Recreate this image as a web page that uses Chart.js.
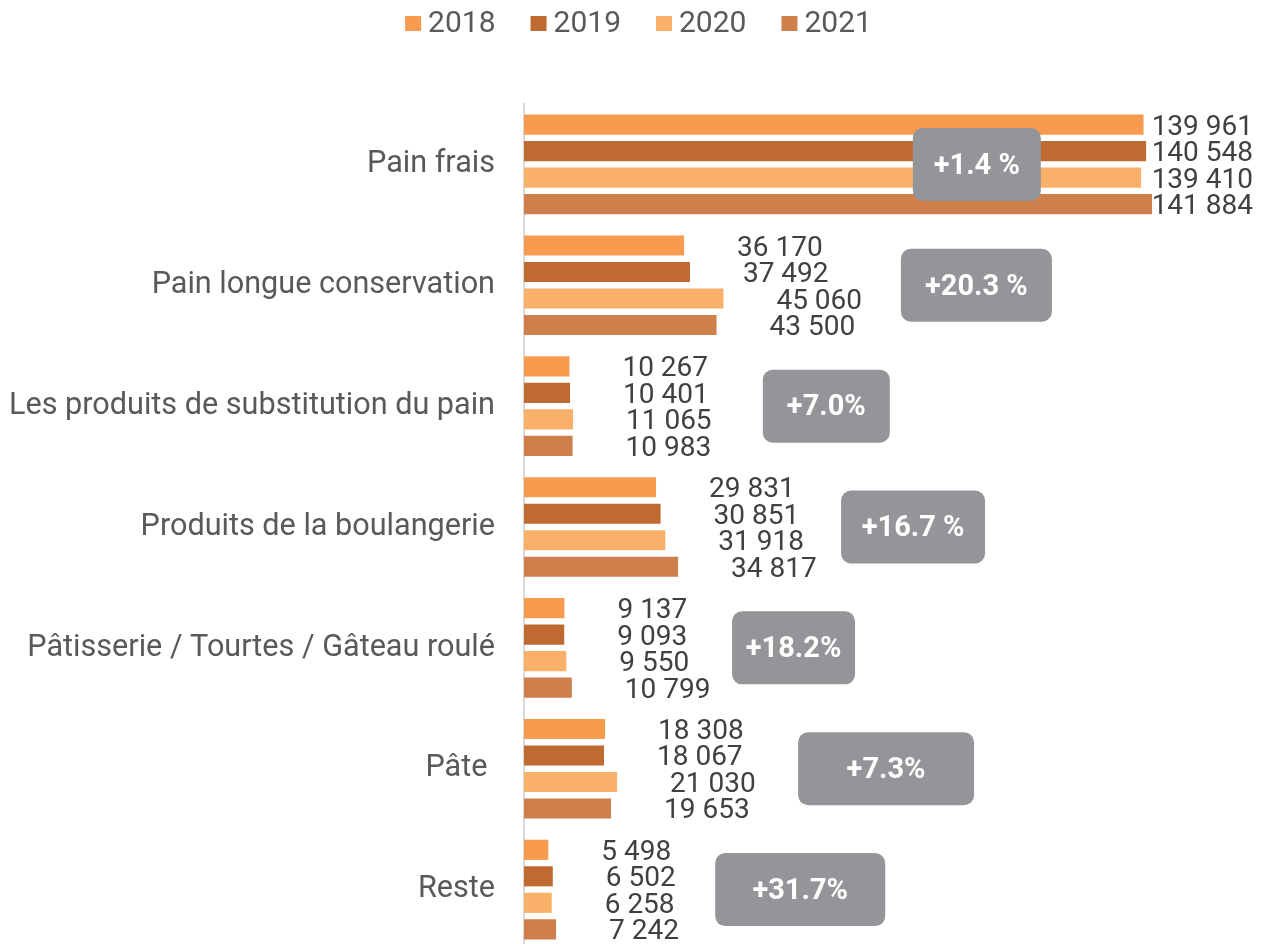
<!DOCTYPE html>
<html>
<head>
<meta charset="utf-8">
<script src="https://cdn.jsdelivr.net/npm/chart.js@4.4.0/dist/chart.umd.min.js"></script>
<style>
  html, body { margin: 0; padding: 0; background: #fff; overflow: hidden; }
  #wrap { width: 1261px; height: 950px; }
</style>
</head>
<body>
<div id="wrap"><canvas id="myChart" width="1261" height="950"></canvas></div>
<script>
const categories = ['Pain frais', 'Pain longue conservation', 'Les produits de substitution du pain',
  'Produits de la boulangerie', 'Pâtisserie / Tourtes / Gâteau roulé', 'Pâte ', 'Reste'];
const years = ['2018', '2019', '2020', '2021'];
const v2018 = [139961, 36170, 10267, 29831, 9137, 18308, 5498];
const v2019 = [140548, 37492, 10401, 30851, 9093, 18067, 6502];
const v2020 = [139410, 45060, 11065, 31918, 9550, 21030, 6258];
const v2021 = [141884, 43500, 10983, 34817, 10799, 19653, 7242];
const changes = ['+1.4 %', '+20.3 %', '+7.0%', '+16.7 %', '+18.2%', '+7.3%', '+31.7%'];

// badge placement (x-axis units) and box widths, copied from the layout of the original
const badgeCenters = [102300, 102200, 68300, 87900, 60900, 81800, 62400];
const badgeWidths = [128, 151, 127, 144, 123, 176, 170];

const colors = ['#F79C4F', '#BF6A31', '#F9B068', '#CE7F4C'];
const series = [v2018, v2019, v2020, v2021];

const fmt = v => String(v).replace(/\B(?=(\d{3})+(?!\d))/g, ' ');

// legend drawn by hand so spacing matches
const legendPlugin = {
  id: 'topLegend',
  afterDraw(chart) {
    const ctx = chart.ctx;
    ctx.save();
    ctx.font = '30px Roboto';
    const box = 16, gap = 7, between = 35;
    const widths = years.map(y => ctx.measureText(y).width);
    const total = widths.reduce((a, w) => a + box + gap + w, 0) + between * (years.length - 1);
    let x = chart.width / 2 + 8 - total / 2;
    years.forEach((y, i) => {
      ctx.fillStyle = colors[i];
      ctx.fillRect(x, 16, box, 15);
      ctx.fillStyle = '#595959';
      ctx.textBaseline = 'alphabetic';
      ctx.textAlign = 'left';
      ctx.fillText(y, x + box + gap, 32);
      x += box + gap + widths[i] + between;
    });
    ctx.restore();
  }
};

const labelPlugin = {
  id: 'valueLabels',
  afterDatasetsDraw(chart) {
    const ctx = chart.ctx;
    ctx.save();
    ctx.font = '28px Roboto';
    ctx.fillStyle = '#404040';
    ctx.textBaseline = 'middle';
    ctx.textAlign = 'left';
    chart.data.datasets.forEach((ds, di) => {
      chart.getDatasetMeta(di).data.forEach((bar, i) => {
        const t = fmt(ds.data[i]);
        const w = ctx.measureText(t).width;
        const x = Math.min(bar.x + 53, chart.width - w - 8);
        ctx.fillText(t, x, bar.y + 3);
      });
    });

    // change badges
    const xs = chart.scales.x, ys = chart.scales.y;
    ctx.font = 'bold 29px Roboto';
    ctx.textAlign = 'center';
    changes.forEach((c, i) => {
      const cx = xs.getPixelForValue(badgeCenters[i]);
      const cy = ys.getPixelForValue(i);
      const w = badgeWidths[i], h = 73;
      ctx.fillStyle = '#949599';
      ctx.beginPath();
      ctx.roundRect(cx - w / 2, cy - h / 2, w, h, 10);
      ctx.fill();
      ctx.fillStyle = '#ffffff';
      ctx.fillText(c, cx, cy + 2);
    });
    ctx.restore();
  }
};

const data = {
  labels: categories,
  datasets: series.map((s, i) => ({
    label: years[i],
    data: s,
    backgroundColor: colors[i],
    borderWidth: 0,
    categoryPercentage: 0.877,
    barPercentage: 0.76
  }))
};

const config = {
  type: 'bar',
  data,
  options: {
    indexAxis: 'y',
    responsive: false,
    animation: false,
    devicePixelRatio: 1,
    layout: { padding: { top: 104, right: 0, bottom: 0, left: 0 } },
    plugins: {
      legend: { display: false },
      tooltip: { enabled: false }
    },
    scales: {
      x: { display: false, min: 0, max: 166500 },
      y: {
        afterFit(scale) {
          scale.width = 524;
          scale.paddingTop = 0;
          scale.paddingBottom = 0;
        },
        grid: { display: false, drawTicks: false },
        border: { display: true, color: '#d9d9d9', width: 2 },
        ticks: { font: { family: 'Roboto', size: 30.6 }, color: '#595959', padding: 29 }
      }
    }
  },
  plugins: [legendPlugin, labelPlugin]
};

const myChart = new Chart(document.getElementById('myChart'), config);
</script>
</body>
</html>
